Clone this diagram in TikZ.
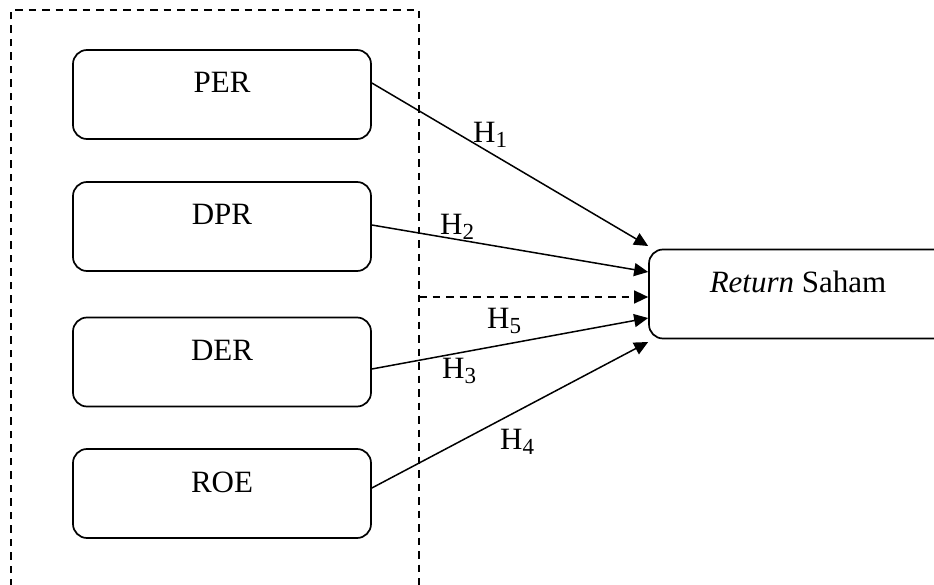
\documentclass[tikz,border=0pt]{standalone}
\usepackage{fontspec}
\setmainfont{Liberation Serif}
\usetikzlibrary{arrows.meta}
\newcommand{\hsub}[1]{H\raisebox{-5pt}{\fontsize{23}{26}\selectfont #1}}
\begin{document}
\begin{tikzpicture}[x=1pt,y=-1pt,
  varbox/.style={draw,line width=1.7pt,rounded corners=14pt,minimum width=298pt,minimum height=89pt,inner sep=0pt,text height=43pt,text depth=46pt,font=\fontsize{31}{36}\selectfont},
  hlabel/.style={anchor=base west,inner sep=0pt,font=\fontsize{31}{36}\selectfont},
  conn/.style={line width=1.5pt,-{Triangle[length=14pt,width=13pt]}},
  dashbox/.style={line width=1.4pt,dash pattern=on 7.5pt off 6pt}]
\useasboundingbox (0,0) rectangle (934,585);
\clip (0,0) rectangle (934,585);
\fill[white] (0,0) rectangle (934,585);
\draw[dashbox] (11,600) -- (11,10) -- (419,10) -- (419,600);
\node[varbox] (per) at (222,94.5) {PER};
\node[varbox] (dpr) at (222,226.5) {DPR};
\node[varbox] (der) at (222,362) {DER};
\node[varbox] (roe) at (222,493.5) {ROE};
\node[varbox] (ret) at (798,294) {\textit{Return} Saham};
\coordinate (dj) at (419,297);
\draw[conn] ([yshift=11.5pt]per.east) -- ([yshift=48pt]ret.west);
\draw[conn] ([yshift=1.5pt]dpr.east) -- ([yshift=22pt]ret.west);
\draw[conn,dash pattern=on 7.5pt off 6pt] (dj) -- ([yshift=-3pt]ret.west);
\draw[conn] ([yshift=-7pt]der.east) -- ([yshift=-24pt]ret.west);
\draw[conn] ([yshift=5.5pt]roe.east) -- ([yshift=-48pt]ret.west);
\node[hlabel] (h1) at (473,143) {\hsub{1}};
\node[hlabel] (h2) at (440,235) {\hsub{2}};
\node[hlabel] (h5) at (487,328) {\hsub{5}};
\node[hlabel] (h3) at (442,378) {\hsub{3}};
\node[hlabel] (h4) at (500,449) {\hsub{4}};
\end{tikzpicture}
\end{document}
